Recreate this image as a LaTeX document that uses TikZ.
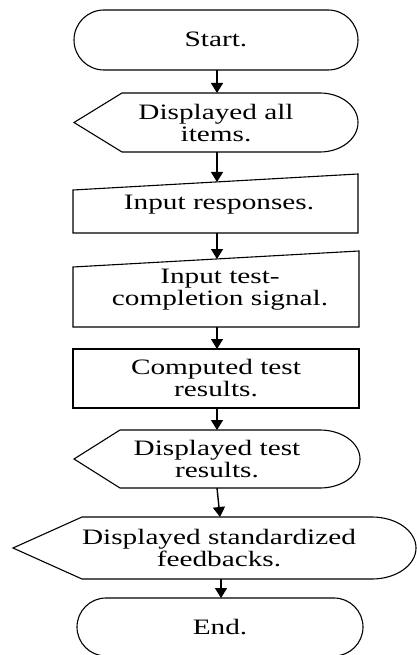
\documentclass[tikz,border=0pt]{standalone}
\usepackage{fontspec}
\setmainfont{Liberation Serif}
\usetikzlibrary{arrows.meta}
\tikzset{
  shp/.style={draw=black, line width=1.1pt},
  txt/.style={align=center, inner sep=0pt, xscale=1.33,
    font=\fontsize{22pt}{22pt}\selectfont},
  arr/.style={draw=black, line width=1.4pt, -{Triangle[width=12pt,length=10pt]}}
}
\begin{document}
\begin{tikzpicture}[x=1pt,y=1pt]
\useasboundingbox (0,0) rectangle (417,-655);
% shapes
\draw[shp, rounded corners=30pt] (74,-10) rectangle (358,-70);
\draw[shp] (74,-122.5) -- (122,-93) -- (320,-93)
  arc[start angle=90, end angle=-90, x radius=38, y radius=29.5]
  -- (122,-152) -- cycle;
\draw[shp] (73,-190) -- (358,-174) -- (358,-233) -- (73,-233) -- cycle;
\draw[shp] (73,-267) -- (359,-251) -- (359,-327) -- (73,-327) -- cycle;
\draw[shp] (73,-349) rectangle (359,-408);
\draw[shp] (74,-459) -- (120,-430) -- (320,-430)
  arc[start angle=90, end angle=-90, x radius=40, y radius=29]
  -- (120,-488) -- cycle;
\draw[shp] (13,-548) -- (82,-517) -- (372,-517)
  arc[start angle=90, end angle=-90, x radius=44, y radius=31]
  -- (82,-579) -- cycle;
\draw[shp, rounded corners=29pt] (77,-598) rectangle (363,-656);
% texts
\node[txt] (start) at (216,-39) {Start.};
\node[txt] (disp1) at (216,-123) {Displayed all\\items.};
\node[txt] (inp1) at (219,-205) {Input responses.};
\node[txt] (inp2) at (220,-290) {Input test-\\completion signal.};
\node[txt] (comp) at (216,-378) {Computed test\\results.};
\node[txt] (disp2) at (217,-459) {Displayed test\\results.};
\node[txt] (disp3) at (219,-548) {Displayed standardized\\feedbacks.};
\node[txt] (end) at (220,-627) {End.};
% connector end points
\coordinate (startB) at (217,-70);
\coordinate (disp1T) at (217,-93);
\coordinate (disp1B) at (217,-152);
\coordinate (inp1T) at (217,-182);
\coordinate (inp1B) at (217,-233);
\coordinate (inp2T) at (217,-259);
\coordinate (inp2B) at (217,-327);
\coordinate (compT) at (217,-349);
\coordinate (compB) at (217,-408);
\coordinate (disp2T) at (217,-430);
\coordinate (disp2B) at (217,-488);
\coordinate (disp3T) at (220,-517);
\coordinate (disp3B) at (221,-579);
\coordinate (endT) at (221,-598);
% connectors
\draw[arr] (startB) -- (disp1T);
\draw[arr] (disp1B) -- (inp1T);
\draw[arr] (inp1B) -- (inp2T);
\draw[arr] (inp2B) -- (compT);
\draw[arr] (compB) -- (disp2T);
\draw[arr] (disp2B) -- (disp3T);
\draw[arr] (disp3B) -- (endT);
\end{tikzpicture}
\end{document}
